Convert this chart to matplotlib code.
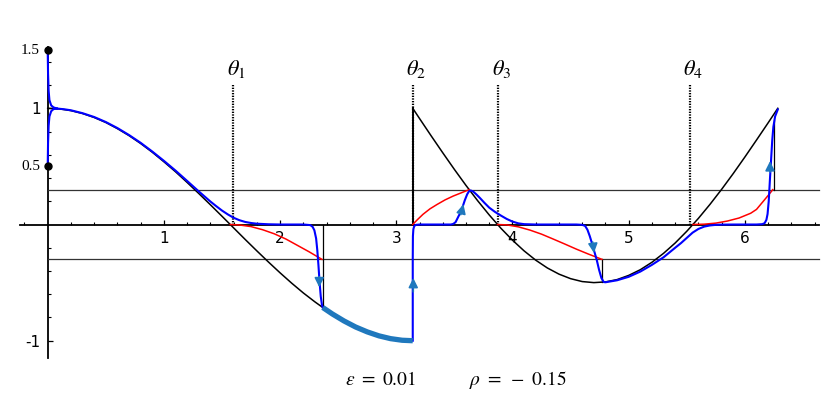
import numpy as np
import matplotlib
matplotlib.use("Agg")
import matplotlib.pyplot as plt

plt.rcParams['mathtext.fontset'] = 'stix'

# ---------------- data ----------------
# black curve, first branch (x in [0, 2.367])
black1_x = [0.0, 0.1, 0.2, 0.3, 0.4, 0.5, 0.6, 0.7, 0.8, 0.9, 1.0, 1.1, 1.2, 1.3, 1.4, 1.5,
            1.6, 1.7, 1.8, 1.9, 2.0, 2.1, 2.2, 2.3, 2.367]
black1_y = [1.000, 0.995, 0.980, 0.955, 0.921, 0.878, 0.825, 0.765, 0.697, 0.622, 0.540, 0.454,
            0.362, 0.267, 0.170, 0.071, -0.029, -0.129, -0.227, -0.323, -0.416, -0.505, -0.589,
            -0.666, -0.714]
# black curve, second branch (x in [pi, 2pi])
black2_x = [3.1416, 3.2, 3.3, 3.4, 3.5, 3.6, 3.7, 3.8, 3.9, 4.0, 4.1, 4.2, 4.3, 4.4, 4.5, 4.6,
            4.7, 4.8, 4.9, 5.0, 5.1, 5.2, 5.3, 5.4, 5.5, 5.6, 5.7, 5.8, 5.9, 6.0, 6.1, 6.2, 6.2832]
black2_y = [1.000, 0.912, 0.763, 0.617, 0.474, 0.336, 0.205, 0.082, -0.032, -0.135, -0.227,
            -0.307, -0.374, -0.427, -0.466, -0.491, -0.500, -0.494, -0.474, -0.438, -0.389,
            -0.325, -0.248, -0.159, -0.058, 0.053, 0.174, 0.303, 0.439, 0.581, 0.727, 0.875, 1.000]

# thick blue segment along the first branch
thick_x = [2.367, 2.45, 2.55, 2.65, 2.75, 2.85, 2.95, 3.05, 3.1416]
thick_y = [-0.714, -0.770, -0.830, -0.882, -0.924, -0.958, -0.982, -0.996, -1.000]

# blue trajectories
blue_start_hi_x = [0.0, 0.003, 0.008, 0.015, 0.03, 0.05, 0.08]
blue_start_hi_y = [1.5, 1.30, 1.15, 1.07, 1.025, 1.008, 0.998]
blue_start_lo_x = [0.0, 0.003, 0.008, 0.015, 0.03, 0.05, 0.08]
blue_start_lo_y = [0.5, 0.70, 0.85, 0.93, 0.975, 0.993, 0.998]

blue1_x = [0.08, 0.14, 0.2, 0.3, 0.4, 0.5, 0.6, 0.7, 0.8, 0.9, 1.0, 1.1, 1.2, 1.3, 1.4, 1.45,
           1.5, 1.55, 1.6, 1.65, 1.7, 1.75, 1.8, 1.9, 2.0, 2.2, 2.26, 2.28, 2.295, 2.31, 2.32,
           2.33, 2.34, 2.35, 2.36, 2.367]
blue1_y = [0.998, 0.992, 0.983, 0.958, 0.925, 0.882, 0.830, 0.770, 0.703, 0.628, 0.548, 0.464,
           0.375, 0.285, 0.198, 0.158, 0.120, 0.087, 0.058, 0.037, 0.022, 0.013, 0.007, 0.002,
           0.0, 0.0, -0.005, -0.02, -0.05, -0.12, -0.22, -0.35, -0.50, -0.62, -0.69, -0.714]

blue2_x = [3.1416, 3.1416, 3.143, 3.147, 3.155, 3.17, 3.2, 3.47, 3.49, 3.51, 3.53, 3.55, 3.57,
           3.59, 3.61, 3.625, 3.64, 3.66, 3.69, 3.72, 3.76, 3.80, 3.85, 3.90, 3.95, 4.00, 4.05,
           4.10, 4.2, 4.55, 4.60, 4.625, 4.645, 4.665, 4.685, 4.705, 4.725, 4.745, 4.765, 4.785,
           4.8, 4.9, 5.0, 5.1, 5.2, 5.3, 5.4, 5.45, 5.5, 5.55, 5.6, 5.65, 5.7, 5.75, 5.8, 5.9,
           6.10, 6.15, 6.17, 6.185, 6.195, 6.205, 6.215, 6.225, 6.235, 6.245, 6.26, 6.2832]
blue2_y = [-1.0, -0.3, -0.1, -0.04, -0.012, -0.003, 0.0, 0.0, 0.005, 0.02, 0.06, 0.10, 0.15,
           0.21, 0.26, 0.285, 0.293, 0.285, 0.258, 0.228, 0.185, 0.145, 0.108, 0.077, 0.048,
           0.025, 0.010, 0.003, 0.0, 0.0, -0.003, -0.012, -0.045, -0.10, -0.165, -0.235, -0.305,
           -0.39, -0.46, -0.495, -0.497, -0.480, -0.450, -0.405, -0.347, -0.282, -0.200, -0.160,
           -0.115, -0.070, -0.038, -0.018, -0.008, -0.003, -0.001, 0.0, 0.0, 0.003, 0.012, 0.04,
           0.09, 0.20, 0.38, 0.55, 0.72, 0.84, 0.93, 0.99]

# red curves
red1_x = [1.571, 1.65, 1.75, 1.85, 1.95, 2.05, 2.15, 2.25, 2.36]
red1_y = [0.0, -0.004, -0.018, -0.045, -0.080, -0.125, -0.180, -0.235, -0.300]
red2_x = [3.1416, 3.18, 3.23, 3.29, 3.35, 3.42, 3.49, 3.56, 3.627]
red2_y = [0.0, 0.040, 0.088, 0.135, 0.172, 0.212, 0.245, 0.273, 0.300]
red3_x = [3.871, 3.95, 4.05, 4.15, 4.25, 4.35, 4.45, 4.55, 4.65, 4.77]
red3_y = [0.0, -0.003, -0.020, -0.048, -0.083, -0.125, -0.168, -0.212, -0.253, -0.300]
red4_x = [5.553, 5.65, 5.75, 5.85, 5.95, 6.05, 6.10, 6.15, 6.20, 6.24]
red4_y = [0.0, 0.003, 0.012, 0.030, 0.056, 0.097, 0.130, 0.190, 0.250, 0.300]

# thin vertical connectors: x, y_from, y_to
vlines_x = [2.367, 4.77, 6.248]
vlines_y0 = [0.0, -0.30, 0.30]
vlines_y1 = [-0.714, -0.497, 0.90]
jump_x = 3.1416
jump_y = (0.0, 1.0)

# horizontal levels
levels = [0.3, -0.3]

# theta markers
theta_x = [1.595, 3.1416, 3.878, 5.527]
theta_labels = [r'$\theta_1$', r'$\theta_2$', r'$\theta_3$', r'$\theta_4$']
theta_top = 1.2

# initial points
init_x = [0.0, 0.0]
init_y = [1.5, 0.5]
init_labels = ['1.5', '0.5']

# arrows (tail -> tip)
arrow_tail = [(2.337, -0.45), (3.146, -0.58), (3.555, 0.085), (4.690, -0.150), (6.216, 0.45)]
arrow_tip = [(2.337, -0.54), (3.146, -0.46), (3.578, 0.175), (4.701, -0.245), (6.216, 0.545)]

xticks = [1, 2, 3, 4, 5, 6]
yticks = [-1, 1]
ytick_labels = ['-1', '1']

params_text = [(2.86, r'$\varepsilon\ =\ 0.01$'), (4.043, r'$\rho\ =\ -\ 0.15$')]

# ---------------- drawing ----------------
fig = plt.figure(figsize=(8.31, 4.08), dpi=100)
ax = fig.add_axes([0, 0, 1, 1])
ax.set_xlim(-0.4105, 6.741)
ax.set_ylim(-1.579, 1.932)

BLUE = '#0000ff'
STEEL = '#1f78bd'
for lv in levels:
    ax.plot([0, 6.64], [lv, lv], color='#333333', lw=0.9, zorder=2)

for tx in theta_x:
    ax.plot([tx, tx], [0, theta_top], color='black', lw=1.6, linestyle=(0, (0.6, 0.6)), zorder=2)
for tx, lab in zip(theta_x, theta_labels):
    ax.text(tx + 0.03, 1.335, lab, fontsize=16, ha='center', va='center')

ax.plot(black1_x, black1_y, color='black', lw=1.1, zorder=3)
ax.plot(black2_x, black2_y, color='black', lw=1.1, zorder=3)
ax.plot([jump_x, jump_x], jump_y, color='black', lw=1.4, zorder=3)
for vx, a, b in zip(vlines_x, vlines_y0, vlines_y1):
    ax.plot([vx, vx], [a, b], color='black', lw=0.9, zorder=3)

for rx, ry in [(red1_x, red1_y), (red2_x, red2_y), (red3_x, red3_y), (red4_x, red4_y)]:
    ax.plot(rx, ry, color='red', lw=1.1, zorder=4)

ax.plot(blue_start_hi_x, blue_start_hi_y, color=BLUE, lw=1.5, zorder=5)
ax.plot(blue_start_lo_x, blue_start_lo_y, color=BLUE, lw=1.5, zorder=5)
ax.plot(blue1_x, blue1_y, color=BLUE, lw=1.5, zorder=5)
ax.plot(blue2_x, blue2_y, color=BLUE, lw=1.5, zorder=5)
ax.plot(thick_x, thick_y, color=STEEL, lw=3.8, solid_capstyle='butt', zorder=5)

for t, h in zip(arrow_tail, arrow_tip):
    ax.annotate('', xy=h, xytext=t,
                arrowprops=dict(arrowstyle='-|>', color=STEEL, lw=1.2,
                                mutation_scale=14, shrinkA=0, shrinkB=0), zorder=6)

ax.plot(init_x, init_y, 'o', color='black', markersize=5, zorder=7)
for yv, lab in zip(init_y, init_labels):
    ax.text(-0.066, yv, lab, fontsize=11, family='Liberation Serif', ha='right', va='center')

for xt, s in params_text:
    ax.text(xt, -1.338, s, fontsize=14, ha='center', va='center')

# axes through the origin
for side in ['top', 'right']:
    ax.spines[side].set_visible(False)
ax.spines['left'].set_position(('data', 0))
ax.spines['bottom'].set_position(('data', 0))
ax.spines['left'].set_bounds(-1.15, 1.53)
ax.spines['bottom'].set_bounds(-0.24, 6.64)
ax.spines['left'].set_linewidth(1.3)
ax.spines['bottom'].set_linewidth(1.3)
ax.spines['left'].set_zorder(1)
ax.spines['bottom'].set_zorder(1)

ax.set_xticks(xticks)
ax.set_xticklabels([str(v) for v in xticks])
ax.set_xticks([v for v in np.round(np.arange(-0.2, 6.61, 0.2), 2) if abs(v - round(v)) > 1e-6], minor=True)
ax.set_yticks(yticks)
ax.set_yticklabels(ytick_labels)
ax.set_yticks([v for v in np.round(np.arange(-1.0, 1.41, 0.2), 2) if abs(v - round(v)) > 1e-6], minor=True)
ax.tick_params(axis='both', which='major', direction='in', length=3.5, width=0.9, labelsize=11)
ax.tick_params(axis='both', which='minor', direction='in', length=2, width=0.8)
ax.tick_params(axis='x', which='major', pad=4.5)
ax.tick_params(axis='y', which='major', pad=5)

fig.savefig('out.png', dpi=100)
